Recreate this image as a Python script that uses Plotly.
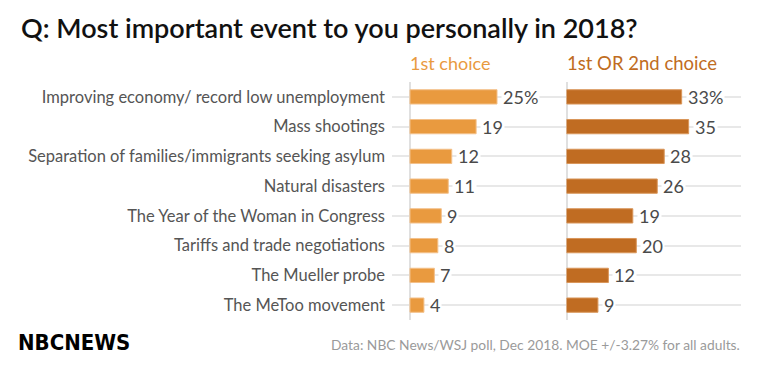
import plotly.graph_objects as go

categories = [
    "Improving economy/ record low unemployment",
    "Mass shootings",
    "Separation of families/immigrants seeking asylum",
    "Natural disasters",
    "The Year of the Woman in Congress",
    "Tariffs and trade negotiations",
    "The Mueller probe",
    "The MeToo movement",
]
first_choice = [25, 19, 12, 11, 9, 8, 7, 4]
first_or_second = [33, 35, 28, 26, 19, 20, 12, 9]
series_names = ["1st choice", "1st OR 2nd choice"]

W, H = 760, 371
OX, OY = 8, 8  # page body margin compensation
C1 = "#e99a3f"
C2 = "#c06c22"
FONT = "Lato"
PXU = 3.48  # pixels per percentage point
X1_MIN, X1_MAX = -18 / PXU, 156.5 / PXU
X2_MAX = 174 / PXU


def px_x(p):
    return (p - OX) / W


def px_y(p):
    return 1 - (p - OY) / H


def fmt(v, i):
    return f"{v}%" if i == 0 else str(v)


fig = go.Figure()
fig.add_trace(go.Bar(
    y=categories, x=first_choice, orientation="h", xaxis="x", yaxis="y",
    marker=dict(color=C1, line=dict(color="#f3c08a", width=1)),
    name=series_names[0], hoverinfo="x+y",
))
fig.add_trace(go.Bar(
    y=categories, x=first_or_second, orientation="h", xaxis="x2", yaxis="y",
    marker=dict(color=C2, line=dict(color="#d9965a", width=1)),
    name=series_names[1], hoverinfo="x+y",
))

annotations = []
for i, c in enumerate(categories):
    annotations.append(dict(
        x=first_choice[i], y=c, xref="x", yref="y", text=fmt(first_choice[i], i),
        xanchor="left", yanchor="middle", xshift=4, showarrow=False,
        bgcolor="white", borderpad=1,
        font=dict(family=FONT, size=18, color="#4a4a4a"),
    ))
    annotations.append(dict(
        x=first_or_second[i], y=c, xref="x2", yref="y", text=fmt(first_or_second[i], i),
        xanchor="left", yanchor="middle", xshift=4, showarrow=False,
        bgcolor="white", borderpad=1,
        font=dict(family=FONT, size=18, color="#4a4a4a"),
    ))

annotations += [
    dict(x=px_x(19), y=px_y(27), xref="paper", yref="paper", xanchor="left", yanchor="middle",
         text="Q: Most important event to you personally in 2018?", showarrow=False,
         font=dict(family=FONT, size=27, color="#111111", weight=600)),
    dict(x=px_x(408), y=px_y(63), xref="paper", yref="paper", xanchor="left", yanchor="middle",
         text=series_names[0], showarrow=False, font=dict(family=FONT, size=18, color=C1)),
    dict(x=px_x(565), y=px_y(63), xref="paper", yref="paper", xanchor="left", yanchor="middle",
         text=series_names[1], showarrow=False, font=dict(family=FONT, size=18.5, color=C2)),
    dict(x=px_x(742), y=px_y(344), xref="paper", yref="paper", xanchor="right", yanchor="middle",
         text="Data: NBC News/WSJ poll, Dec 2018. MOE +/-3.27% for all adults.", showarrow=False,
         font=dict(family=FONT, size=13.8, color="#9a9a9a")),
    dict(x=px_x(16), y=px_y(342), xref="paper", yref="paper", xanchor="left", yanchor="middle",
         text="<b>NBCNEWS</b>", showarrow=False,
         font=dict(family="Liberation Sans Narrow, DejaVu Sans Condensed, sans-serif", size=22, color="#000000")),
]

ydom = [px_y(320), px_y(82)]
fig.update_layout(
    width=W, height=H, margin=dict(l=0, r=0, t=0, b=0),
    paper_bgcolor="white", plot_bgcolor="white",
    showlegend=False, bargap=0.52,
    xaxis=dict(domain=[px_x(392), px_x(566.5)], range=[X1_MIN, X1_MAX], showgrid=False,
               zeroline=True, zerolinecolor="#e0e0e0", zerolinewidth=1.5,
               showticklabels=False, showline=False, anchor="y", ticks=""),
    xaxis2=dict(domain=[px_x(566.5), px_x(741)], range=[0, X2_MAX], showgrid=False,
                zeroline=True, zerolinecolor="#e0e0e0", zerolinewidth=1.5,
                showticklabels=False, showline=False, anchor="y"),
    yaxis=dict(domain=ydom, categoryorder="array", categoryarray=categories,
               autorange="reversed", showgrid=True, gridcolor="#e8e8e8", gridwidth=1.5,
               zeroline=False, showline=False, ticks="", ticklabelstandoff=6,
               tickfont=dict(family=FONT, size=16.5, color="#555555"), anchor="x"),
    annotations=annotations,
)

fig.write_html("out.html")
